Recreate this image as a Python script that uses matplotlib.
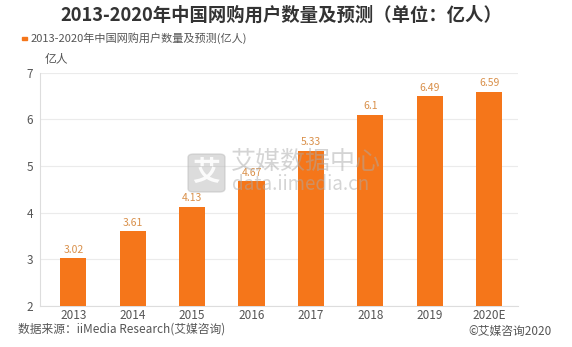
import matplotlib.pyplot as plt
from matplotlib.patches import FancyBboxPatch

plt.rcParams['font.family'] = ['Noto Sans CJK SC', 'DejaVu Sans']

years = ['2013', '2014', '2015', '2016', '2017', '2018', '2019', '2020E']
users = [3.02, 3.61, 4.13, 4.67, 5.33, 6.1, 6.49, 6.59]
yticks = [2, 3, 4, 5, 6, 7]

bar_color = '#F5761A'
label_color = '#D9904A'

fig = plt.figure(figsize=(5.72, 3.47), dpi=100)
ax = fig.add_axes([0.070, 0.118, 0.836, 0.673])

x = range(len(years))
ax.bar(x, users, width=0.44, color=bar_color, zorder=3)
for i, v in zip(x, users):
    ax.text(i, v + 0.07, f'{v:g}', ha='center', va='bottom', fontsize=7.5, color=label_color, zorder=4)

ax.set_xlim(-0.56, 7.49)
ax.set_ylim(2, 7)
ax.set_yticks(yticks)
ax.set_xticks(list(x))
ax.set_xticklabels(years)
ax.tick_params(length=0, labelsize=8.5, labelcolor='#555555')
ax.tick_params(axis='y', pad=5)
ax.tick_params(axis='x', pad=2)
ax.grid(axis='y', color='#EBEBEB', linewidth=0.8, zorder=0)
for s in ['top', 'right']:
    ax.spines[s].set_visible(False)
for s in ['left', 'bottom']:
    ax.spines[s].set_color('#DDDDDD')
    ax.spines[s].set_linewidth(0.8)

# title, legend and unit
fig.text(0.491, 0.955, '2013-2020年中国网购用户数量及预测（单位：亿人）', ha='center', va='center',
         fontsize=13.2, fontweight='bold', color='#333333')
fig.patches.append(plt.Rectangle((22 / 572, 1 - 40 / 347), 5 / 572, 3 / 347,
                                 transform=fig.transFigure, color=bar_color, figure=fig))
fig.text(31 / 572, 1 - 38.5 / 347, '2013-2020年中国网购用户数量及预测(亿人)', ha='left', va='center',
         fontsize=8, color='#555555')
fig.text(45 / 572, 1 - 59 / 347, '亿人', ha='left', va='center', fontsize=8.5, color='#555555')

# watermark
fig.patches.append(FancyBboxPatch((188 / 572, 1 - 192 / 347), 37 / 572, 38 / 347,
                                  boxstyle='round,pad=0,rounding_size=0.01',
                                  transform=fig.transFigure, color='#BBBBBB', alpha=0.5,
                                  figure=fig, zorder=5))
fig.text(206.5 / 572, 1 - 173 / 347, '艾', ha='center', va='center', fontsize=20,
         fontweight='bold', color='white', alpha=0.9, zorder=6)
fig.text(231 / 572, 1 - 162 / 347, '艾媒数据中心', ha='left', va='center', fontsize=18,
         color='#AAAAAA', alpha=0.5, zorder=6)
fig.text(232 / 572, 1 - 185 / 347, 'data.iimedia.cn', ha='left', va='center', fontsize=13.5,
         color='#AAAAAA', alpha=0.5, zorder=6)

# footer
fig.text(18 / 572, 1 - 329 / 347, '数据来源：iiMedia Research(艾媒咨询)', ha='left', va='center',
         fontsize=8.5, color='#555555')
fig.text(552 / 572, 1 - 331 / 347, '©艾媒咨询2020', ha='right', va='center',
         fontsize=8.5, color='#555555')

fig.savefig('out.png', dpi=100, facecolor='white')
